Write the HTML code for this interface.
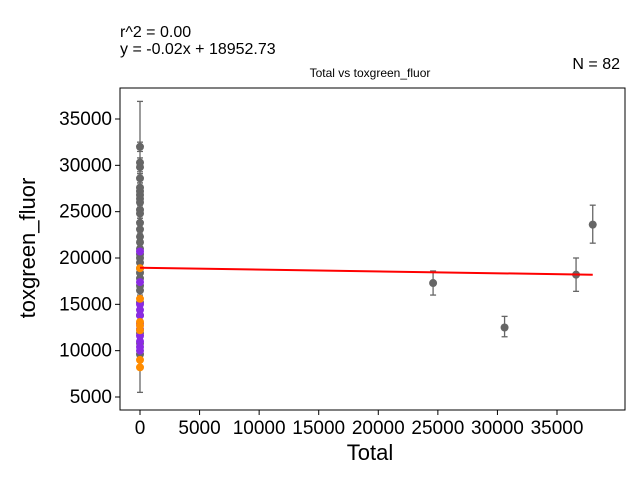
<!DOCTYPE html>
<html><head><meta charset="utf-8"><style>
body{margin:0;background:#fff;font-family:"Liberation Sans",sans-serif}
</style></head><body>
<svg id="c" width="640" height="480" style="display:block">
<rect width="640" height="480" fill="#fff"/>
<text x="120" y="37" font-size="16">r^2 = 0.00</text>
<text x="120" y="54" font-size="16">y = -0.02x + 18952.73</text>
<text x="620" y="69" font-size="16" text-anchor="end">N = 82</text>
<text x="370" y="77" font-size="12" text-anchor="middle">Total vs toxgreen_fluor</text>
<text x="370" y="460" font-size="22" text-anchor="middle">Total</text>
<text transform="translate(35,248) rotate(-90)" font-size="22" text-anchor="middle">toxgreen_fluor</text>
<g id="g"></g>
</svg>
<script>
const xTicks=[0,5000,10000,15000,20000,25000,30000,35000];
const yTicks=[5000,10000,15000,20000,25000,30000,35000];
const clusterGray=[32000,30300,29800,28600,27600,27200,26800,26400,26000,25200,24800,23800,23100,22300,21700,21000,20400,20000,19500,18900,18400,17800,17000,16500,15200,13800,11900,10800,9600];
const clusterPurple=[20700,17400,15000,14400,13800,12900,12300,11600,11000,10400,10000];
const clusterOrange=[18900,15600,13100,12700,12200,9000,8200];
const clusterErrLow=5500, clusterErrHigh=36900;
const outX=[24600,30600,36600,38000];
const outY=[17300,12500,18200,23600];
const outLo=[16000,11500,16400,21600];
const outHi=[18600,13700,20000,25700];
const slope=-0.02, intercept=18952.73;
const L=120,R=625,T=88,B=410;
const sx=v=>140+v*(557-140)/35000;
const sy=v=>397-(v-5000)*(397-119)/30000;
const g=document.getElementById('g');
const NS='http://www.w3.org/2000/svg';
function mk(t,a){const e=document.createElementNS(NS,t);for(const k in a)e.setAttribute(k,a[k]);g.appendChild(e);return e;}
let e=mk('rect',{x:L,y:T,width:R-L,height:B-T,fill:'none',stroke:'#000','stroke-width':1});


xTicks.forEach(v=>{const x=sx(v);
 let t=mk('line',{x1:x,x2:x,y1:B,y2:B+5,stroke:'#000'});
 
 
 let l=mk('text',{x:x,y:B+24,'font-size':19,'text-anchor':'middle'});l.textContent=v;
 
 });
yTicks.forEach(v=>{const y=sy(v);
 let t=mk('line',{x1:L-5,x2:L,y1:y,y2:y,stroke:'#000'});
 
 
 let l=mk('text',{x:L-8,y:y+6,'font-size':19,'text-anchor':'end'});l.textContent=v;
 
 });
function err(x,lo,hi){
 [[x,sy(lo),x,sy(hi)],[x-3,sy(lo),x+3,sy(lo)],[x-3,sy(hi),x+3,sy(hi)]].forEach(c=>{
 let l=mk('line',{x1:c[0],y1:c[1],x2:c[2],y2:c[3],stroke:'#666','stroke-width':1.3});
 
 });}
err(sx(0),clusterErrLow,clusterErrHigh);
clusterGray.forEach(v=>{err(sx(0),v-500,v+500);});
outX.forEach((v,i)=>err(sx(v),outLo[i],outHi[i]));
function pt(x,v,c){let p=mk('circle',{cx:x,cy:sy(v),r:4,fill:c});
 
 }
clusterGray.forEach(v=>pt(sx(0),v,'#666'));
clusterPurple.forEach(v=>pt(sx(0),v,'#8a2be2'));
clusterOrange.forEach(v=>pt(sx(0),v,'#ff8c00'));
outX.forEach((v,i)=>pt(sx(v),outY[i],'#666'));
let f=mk('line',{x1:sx(0),y1:sy(intercept),x2:sx(38000),y2:sy(intercept+slope*38000),stroke:'red','stroke-width':2});


</script>
</body></html>
